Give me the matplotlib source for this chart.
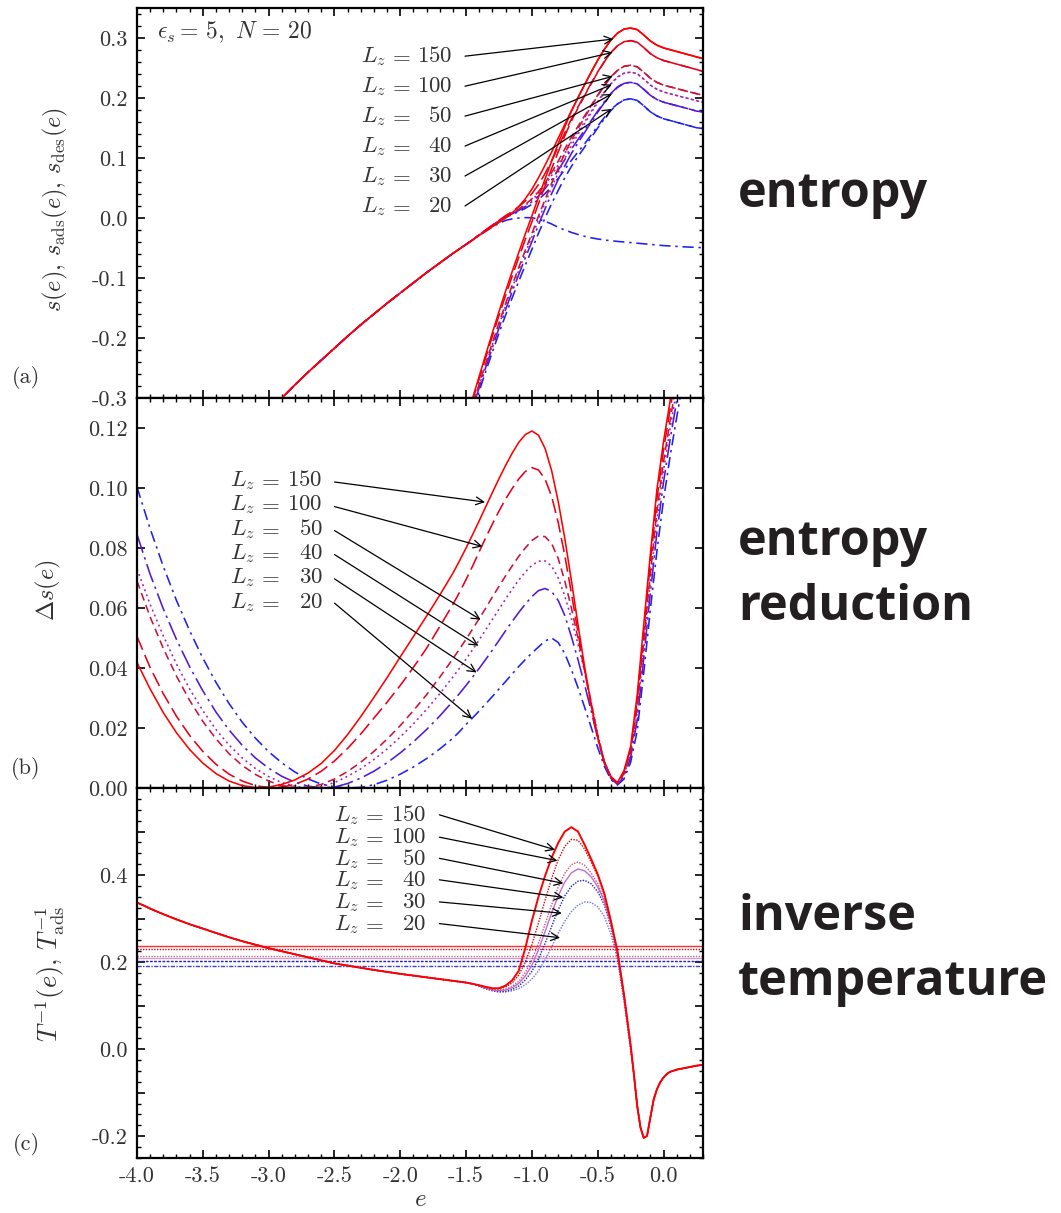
import numpy as np
import matplotlib.pyplot as plt
from matplotlib.ticker import MultipleLocator, FuncFormatter

plt.rcParams['font.family'] = 'serif'
plt.rcParams['font.serif'] = ['cmr10']
plt.rcParams['mathtext.fontset'] = 'cm'
plt.rcParams['axes.unicode_minus'] = False

LZ = [150, 100, 50, 40, 30, 20]

# ---------------- (a) entropies ----------------
E_ADS = [-3.0, -2.9, -2.8, -2.7, -2.6, -2.5, -2.4, -2.3, -2.2, -2.1, -2.0, -1.9, -1.8, -1.7, -1.6, -1.5,
         -1.45, -1.4, -1.35, -1.3, -1.25, -1.2, -1.15, -1.1, -1.05, -1.0,
         -0.95, -0.9, -0.85, -0.8, -0.75, -0.7, -0.65, -0.6, -0.55, -0.5,
         -0.45, -0.4, -0.35, -0.3, -0.25, -0.2, -0.15, -0.1, -0.05, 0.0,
         0.05, 0.1, 0.15, 0.2, 0.25, 0.3]
S_ADS = [-0.322, -0.300, -0.278, -0.257, -0.237, -0.217, -0.197, -0.178, -0.160, -0.142, -0.125, -0.108, -0.091, -0.075, -0.059, -0.044,
         -0.0365, -0.029, -0.022, -0.015, -0.009, -0.004, -0.0015, 0.000, 0.0006, 0.0005,
         -0.002, -0.0055, -0.010, -0.0155, -0.020, -0.024, -0.0275, -0.0305, -0.033, -0.035,
         -0.0365, -0.038, -0.039, -0.040, -0.041, -0.042, -0.043, -0.044, -0.045, -0.046,
         -0.0467, -0.0473, -0.048, -0.0485, -0.049, -0.0495]

E_HI = [-1.5, -1.45, -1.4, -1.35, -1.3, -1.25, -1.2, -1.15, -1.1, -1.05,
        -1.0, -0.95, -0.9, -0.85, -0.8, -0.75, -0.7, -0.65, -0.6, -0.55,
        -0.5, -0.45, -0.4, -0.35, -0.3, -0.25, -0.2, -0.15, -0.1, -0.05,
        0.0, 0.05, 0.1, 0.15, 0.2, 0.25, 0.3]

S_DES = {
    150: [-0.337, -0.300, -0.2635, -0.2272, -0.1912, -0.1560, -0.1220, -0.0893, -0.0575, -0.0265,
          0.0035, 0.0345, 0.0650, 0.0950, 0.1240, 0.1520, 0.1780, 0.2005, 0.2220, 0.2430,
          0.2630, 0.2810, 0.2965, 0.3080, 0.3148, 0.3166, 0.3140, 0.3050, 0.2950, 0.2880,
          0.2835, 0.2805, 0.2775, 0.2745, 0.2715, 0.2685, 0.2656],
    100: [-0.3405, -0.3039, -0.2680, -0.2322, -0.1969, -0.1624, -0.1291, -0.0971, -0.0660, -0.0358,
          -0.0065, 0.0238, 0.0534, 0.0824, 0.1101, 0.1369, 0.1616, 0.1830, 0.2035, 0.2236,
          0.2429, 0.2604, 0.2756, 0.2870, 0.2938, 0.2956, 0.2930, 0.2840, 0.2740, 0.2670,
          0.2625, 0.2595, 0.2565, 0.2535, 0.2505, 0.2475, 0.2444],
    50: [-0.3475, -0.3115, -0.2766, -0.2419, -0.2080, -0.1749, -0.1430, -0.1124, -0.0827, -0.0538,
         -0.0260, 0.0030, 0.0308, 0.0577, 0.0830, 0.1074, 0.1296, 0.1490, 0.1674, 0.1857,
         0.2036, 0.2201, 0.2347, 0.2460, 0.2528, 0.2546, 0.2520, 0.2430, 0.2330, 0.2260,
         0.2215, 0.2186, 0.2157, 0.2128, 0.2100, 0.2072, 0.2046],
    40: [-0.3494, -0.3137, -0.2791, -0.2446, -0.2111, -0.1784, -0.1469, -0.1167, -0.0874, -0.0589,
         -0.0314, -0.0028, 0.0245, 0.0508, 0.0754, 0.0991, 0.1207, 0.1394, 0.1572, 0.1751,
         0.1926, 0.2087, 0.2233, 0.2345, 0.2413, 0.2431, 0.2405, 0.2315, 0.2215, 0.2145,
         0.2100, 0.2071, 0.2042, 0.2013, 0.1985, 0.1956, 0.1928],
    30: [-0.3523, -0.3168, -0.2827, -0.2486, -0.2157, -0.1836, -0.1527, -0.1231, -0.0943, -0.0664,
         -0.0395, -0.0115, 0.0151, 0.0405, 0.0642, 0.0868, 0.1074, 0.1253, 0.1423, 0.1594,
         0.1763, 0.1920, 0.2064, 0.2175, 0.2243, 0.2261, 0.2235, 0.2145, 0.2045, 0.1975,
         0.1930, 0.1901, 0.1872, 0.1843, 0.1814, 0.1782, 0.1769],
    20: [-0.357, -0.322, -0.2885, -0.2552, -0.2232, -0.1920, -0.1620, -0.1333, -0.1055, -0.0785,
         -0.0525, -0.0255, 0.0000, 0.0240, 0.0460, 0.0670, 0.0860, 0.1025, 0.1180, 0.1340,
         0.1500, 0.1650, 0.1790, 0.1900, 0.1968, 0.1986, 0.1960, 0.1870, 0.1770, 0.1700,
         0.1655, 0.1625, 0.1595, 0.1565, 0.1535, 0.1505, 0.1491],
}

# total entropy s(e), from e = -1.5 on (below that it is s_ads)
S_TOT = {
    150: [-0.044, -0.0365, -0.029, -0.0218, -0.0145, -0.0075, 0.0000, 0.0085, 0.0190, 0.0320,
          0.0480, 0.0670, 0.0880, 0.1100, 0.1330, 0.1560, 0.1785, 0.2005, 0.2220, 0.2430,
          0.2630, 0.2810, 0.2965, 0.3080, 0.3148, 0.3166, 0.3140, 0.3050, 0.2950, 0.2880,
          0.2835, 0.2805, 0.2775, 0.2745, 0.2715, 0.2685, 0.2656],
    100: [-0.044, -0.0365, -0.0277, -0.0199, -0.0117, -0.0038, 0.0039, 0.0108, 0.0187, 0.0283,
          0.0405, 0.0556, 0.0740, 0.0952, 0.1181, 0.1418, 0.1647, 0.1850, 0.2049, 0.2245,
          0.2435, 0.2604, 0.2756, 0.2870, 0.2938, 0.2956, 0.2930, 0.2840, 0.2740, 0.2670,
          0.2625, 0.2595, 0.2565, 0.2535, 0.2505, 0.2475, 0.2444],
    50: [-0.044, -0.0365, -0.0278, -0.0202, -0.0123, -0.0047, 0.0024, 0.0083, 0.0148, 0.0225,
         0.0320, 0.0439, 0.0586, 0.0759, 0.0948, 0.1151, 0.1348, 0.1526, 0.1700, 0.1875,
         0.2049, 0.2211, 0.2354, 0.2460, 0.2528, 0.2546, 0.2520, 0.2430, 0.2330, 0.2260,
         0.2215, 0.2186, 0.2157, 0.2128, 0.2100, 0.2072, 0.2046],
    40: [-0.044, -0.0365, -0.0279, -0.0203, -0.0124, -0.0049, 0.0020, 0.0077, 0.0139, 0.0210,
         0.0300, 0.0409, 0.0546, 0.0709, 0.0885, 0.1078, 0.1266, 0.1437, 0.1602, 0.1773,
         0.1942, 0.2099, 0.2242, 0.2351, 0.2413, 0.2431, 0.2405, 0.2315, 0.2215, 0.2145,
         0.2100, 0.2071, 0.2042, 0.2013, 0.1985, 0.1956, 0.1928],
    30: [-0.044, -0.0365, -0.0279, -0.0203, -0.0125, -0.0053, 0.0015, 0.0069, 0.0125, 0.0190,
         0.0270, 0.0367, 0.0489, 0.0635, 0.0796, 0.0973, 0.1147, 0.1306, 0.1462, 0.1622,
         0.1784, 0.1936, 0.2076, 0.2185, 0.2251, 0.2261, 0.2235, 0.2145, 0.2045, 0.1975,
         0.1930, 0.1901, 0.1872, 0.1843, 0.1814, 0.1782, 0.1769],
    20: [-0.044, -0.0365, -0.0281, -0.0205, -0.0128, -0.0057, 0.0009, 0.0057, 0.0107, 0.0161,
         0.0228, 0.0307, 0.0407, 0.0526, 0.0659, 0.0809, 0.0960, 0.1100, 0.1235, 0.1383,
         0.1532, 0.1674, 0.1809, 0.1900, 0.1968, 0.1986, 0.1960, 0.1870, 0.1770, 0.1700,
         0.1655, 0.1625, 0.1595, 0.1565, 0.1535, 0.1505, 0.1491],
}

# ---------------- (b) entropy reduction ----------------
E_B = [-4.0, -3.9, -3.8, -3.7, -3.6, -3.5, -3.4, -3.3, -3.2, -3.1, -3.0, -2.9, -2.8, -2.7, -2.6,
       -2.5, -2.4, -2.3, -2.2, -2.1, -2.0, -1.9, -1.8, -1.7, -1.6,
       -1.55, -1.5, -1.45, -1.4, -1.35, -1.3, -1.25, -1.2, -1.15, -1.1, -1.05, -1.0,
       -0.95, -0.9, -0.85, -0.8, -0.75, -0.7, -0.65, -0.6, -0.55, -0.5,
       -0.45, -0.4, -0.35, -0.3, -0.25, -0.2, -0.15, -0.1, -0.05, 0.0,
       0.05, 0.1, 0.15, 0.2, 0.25, 0.3]
DS = {
    150: [0.0418, 0.0330, 0.0251, 0.0184, 0.0128, 0.0083, 0.0048, 0.0023, 0.0008, 0.0001, 0.0003, 0.0012, 0.0027, 0.0050, 0.0082,
          0.0125, 0.0178, 0.0238, 0.0302, 0.0368, 0.0437, 0.0505, 0.0573, 0.0643, 0.0716,
          0.0757, 0.0800, 0.0845, 0.0891, 0.0938, 0.0985, 0.1031, 0.1075, 0.1116, 0.1152, 0.1178, 0.1190,
          0.1176, 0.1132, 0.1058, 0.0955, 0.0832, 0.0692, 0.0546, 0.0405, 0.0280, 0.0170,
          0.0088, 0.0038, 0.0018, 0.0058, 0.0138, 0.0310, 0.0545, 0.0780, 0.0995, 0.1155,
          0.1290, 0.1420, 0.1550, 0.1680, 0.1800, 0.1920],
    100: [0.0505, 0.0401, 0.0314, 0.0239, 0.0175, 0.0122, 0.0079, 0.0046, 0.0023, 0.0008, 0.0001, 0.0003, 0.0012, 0.0030, 0.0056,
          0.0090, 0.0132, 0.0180, 0.0233, 0.0286, 0.0342, 0.0402, 0.0466, 0.0538, 0.0612,
          0.0652, 0.0695, 0.0740, 0.0788, 0.0835, 0.0880, 0.0923, 0.0963, 0.0998, 0.1030, 0.1055, 0.1068,
          0.1060, 0.1030, 0.0972, 0.0885, 0.0775, 0.0650, 0.0520, 0.0392, 0.0275, 0.0168,
          0.0087, 0.0037, 0.0017, 0.0054, 0.0130, 0.0292, 0.0521, 0.0752, 0.0964, 0.1126,
          0.1262, 0.1392, 0.1520, 0.1650, 0.1770, 0.1890],
    50: [0.0690, 0.0570, 0.0465, 0.0373, 0.0292, 0.0222, 0.0164, 0.0114, 0.0075, 0.0045, 0.0023, 0.0008, 0.0001, 0.0002, 0.0012,
         0.0030, 0.0055, 0.0086, 0.0122, 0.0163, 0.0208, 0.0258, 0.0311, 0.0369, 0.0431,
         0.0463, 0.0496, 0.0530, 0.0565, 0.0600, 0.0637, 0.0672, 0.0707, 0.0740, 0.0772, 0.0800, 0.0825,
         0.0840, 0.0838, 0.0815, 0.0765, 0.0690, 0.0600, 0.0500, 0.0395, 0.0285, 0.0175,
         0.0087, 0.0036, 0.0016, 0.0048, 0.0119, 0.0268, 0.0489, 0.0715, 0.0923, 0.1087,
         0.1225, 0.1355, 0.1480, 0.1610, 0.1730, 0.1850],
    40: [0.0730, 0.0612, 0.0507, 0.0413, 0.0330, 0.0258, 0.0195, 0.0143, 0.0100, 0.0065, 0.0038, 0.0018, 0.0006, 0.0001, 0.0004,
         0.0018, 0.0039, 0.0064, 0.0095, 0.0130, 0.0170, 0.0214, 0.0262, 0.0314, 0.0370,
         0.0399, 0.0430, 0.0461, 0.0494, 0.0528, 0.0562, 0.0596, 0.0630, 0.0662, 0.0693, 0.0720, 0.0742,
         0.0756, 0.0757, 0.0740, 0.0700, 0.0640, 0.0565, 0.0480, 0.0390, 0.0288, 0.0178,
         0.0086, 0.0035, 0.0015, 0.0044, 0.0112, 0.0250, 0.0465, 0.0688, 0.0893, 0.1058,
         0.1198, 0.1328, 0.1455, 0.1580, 0.1700, 0.1820],
    30: [0.0845, 0.0712, 0.0597, 0.0495, 0.0404, 0.0324, 0.0253, 0.0193, 0.0142, 0.0100, 0.0066, 0.0039, 0.0019, 0.0006, 0.0001,
         0.0003, 0.0015, 0.0033, 0.0056, 0.0084, 0.0117, 0.0154, 0.0195, 0.0240, 0.0289,
         0.0315, 0.0342, 0.0370, 0.0399, 0.0429, 0.0460, 0.0492, 0.0524, 0.0555, 0.0585, 0.0613, 0.0638,
         0.0658, 0.0665, 0.0655, 0.0625, 0.0575, 0.0505, 0.0428, 0.0345, 0.0258, 0.0165,
         0.0083, 0.0032, 0.0012, 0.0038, 0.0101, 0.0226, 0.0433, 0.0651, 0.0852, 0.1019,
         0.1161, 0.1290, 0.1417, 0.1540, 0.1660, 0.1780],
    20: [0.1003, 0.0864, 0.0738, 0.0625, 0.0524, 0.0433, 0.0352, 0.0281, 0.0219, 0.0166, 0.0121, 0.0084, 0.0053, 0.0030, 0.0013,
         0.0004, 0.0000, 0.0002, 0.0011, 0.0026, 0.0046, 0.0070, 0.0098, 0.0130, 0.0166,
         0.0188, 0.0212, 0.0234, 0.0257, 0.0281, 0.0305, 0.0330, 0.0355, 0.0380, 0.0405, 0.0428, 0.0450,
         0.0470, 0.0490, 0.0500, 0.0485, 0.0448, 0.0395, 0.0335, 0.0270, 0.0203, 0.0135,
         0.0073, 0.0028, 0.0010, 0.0030, 0.0085, 0.0190, 0.0385, 0.0595, 0.0790, 0.0960,
         0.1105, 0.1235, 0.1360, 0.1480, 0.1600, 0.1720],
}

# ---------------- (c) inverse temperature ----------------
E_C_LOW = [-4.0, -3.9, -3.8, -3.7, -3.6, -3.5, -3.4, -3.3, -3.2, -3.1, -3.0, -2.9, -2.8,
           -2.7, -2.6, -2.5, -2.4, -2.3, -2.2, -2.1, -2.0, -1.9, -1.8, -1.7, -1.6, -1.5]
T_LOW = [0.337, 0.323, 0.310, 0.298, 0.287, 0.277, 0.267, 0.257, 0.248, 0.240, 0.232, 0.225, 0.218,
         0.211, 0.204, 0.197, 0.192, 0.187, 0.182, 0.1775, 0.173, 0.169, 0.165, 0.161, 0.157, 0.153]
E_C_MID = [-1.45, -1.4, -1.35, -1.3, -1.25, -1.2, -1.15, -1.1, -1.05, -1.0,
           -0.95, -0.9, -0.85, -0.8, -0.75, -0.7, -0.65, -0.6, -0.55, -0.5,
           -0.45, -0.4, -0.35, -0.3, -0.25]
T_MID = {
    150: [0.150, 0.147, 0.143, 0.140, 0.140, 0.146, 0.158, 0.180, 0.232, 0.295,
          0.350, 0.398, 0.440, 0.474, 0.500, 0.510, 0.500, 0.470, 0.437, 0.402,
          0.358, 0.295, 0.225, 0.125, 0.010],
    100: [0.150, 0.146, 0.142, 0.139, 0.139, 0.143, 0.152, 0.170, 0.200, 0.240,
          0.290, 0.342, 0.392, 0.435, 0.466, 0.482, 0.480, 0.460, 0.430, 0.398,
          0.356, 0.294, 0.225, 0.125, 0.010],
    50: [0.150, 0.146, 0.141, 0.137, 0.136, 0.138, 0.144, 0.156, 0.176, 0.205,
         0.243, 0.287, 0.332, 0.372, 0.404, 0.424, 0.430, 0.423, 0.405, 0.380,
         0.345, 0.290, 0.222, 0.122, 0.008],
    40: [0.150, 0.146, 0.140, 0.136, 0.134, 0.136, 0.141, 0.151, 0.168, 0.193,
         0.228, 0.270, 0.313, 0.352, 0.384, 0.405, 0.414, 0.410, 0.396, 0.373,
         0.340, 0.287, 0.220, 0.120, 0.006],
    30: [0.150, 0.145, 0.139, 0.135, 0.132, 0.133, 0.137, 0.145, 0.159, 0.179,
         0.207, 0.243, 0.282, 0.320, 0.352, 0.374, 0.386, 0.388, 0.380, 0.362,
         0.332, 0.282, 0.215, 0.115, 0.002],
    20: [0.150, 0.145, 0.139, 0.134, 0.131, 0.1315, 0.134, 0.139, 0.148, 0.161,
         0.180, 0.205, 0.235, 0.266, 0.294, 0.316, 0.331, 0.338, 0.337, 0.327,
         0.305, 0.265, 0.205, 0.110, 0.000],
}
# above e = -0.25 all box sizes coincide
E_C_TAIL = [-0.225, -0.2, -0.175, -0.15, -0.125, -0.1, -0.075, -0.05, -0.025, 0.0,
            0.025, 0.05, 0.1, 0.15, 0.2, 0.25, 0.3]
T_TAIL = [-0.058, -0.130, -0.180, -0.204, -0.199, -0.157, -0.116, -0.092, -0.076, -0.065,
          -0.057, -0.052, -0.047, -0.044, -0.041, -0.038, -0.036]
T_ADS = {150: 0.237, 100: 0.229, 50: 0.2145, 40: 0.209, 30: 0.2017, 20: 0.191}

# ---------------- styles ----------------
COLORS = {150: '#ff0000', 100: '#e8001a', 50: '#c8143c', 40: '#a420b4', 30: '#5018d8', 20: '#2020f0'}
DASHES = {150: '-', 100: (0, (9, 3.5)), 50: (0, (5, 3)), 40: (0, (1.2, 2.2)),
          30: (0, (12, 3, 1.5, 3)), 20: (0, (7, 3, 1.5, 3))}
C_COLORS = {150: '#ff0000', 100: '#e00010', 50: '#d05070', 40: '#c070d0', 30: '#2020c0', 20: '#7070e8'}
C_DASHES = {150: '-', 100: (0, (1, 1)), 50: (0, (1, 1)), 40: '-', 30: (0, (1, 1)), 20: (0, (1, 1))}
H_COLORS = {150: '#ff3030', 100: '#e00010', 50: '#c07090', 40: '#d0a0d0', 30: '#2020b0', 20: '#4040d0'}
H_DASHES = {150: '-', 100: (0, (1, 1)), 50: (0, (1, 1)), 40: '-', 30: (0, (2, 1)), 20: (0, (3, 1, 1, 1))}
LW = 1.15
INK = '#333333'

fig = plt.figure(figsize=(10.61, 12.13), dpi=100)
left, width = 137 / 1061, 566 / 1061
ax_a = fig.add_axes([left, 1 - 398 / 1213, width, 390 / 1213])
ax_b = fig.add_axes([left, 1 - 788 / 1213, width, 390 / 1213])
ax_c = fig.add_axes([left, 1 - 1158 / 1213, width, 370 / 1213])


def fmt(decimals, step=None, vmax=None):
    def f(v, pos):
        if abs(v) < 1e-9:
            v = 0.0
        if step is not None and abs(v / step - round(v / step)) > 1e-6:
            return ''
        if vmax is not None and v > vmax:
            return ''
        return '%.*f' % (decimals, v)
    return FuncFormatter(f)


def setup(ax, ymajor, yminor=None):
    ax.set_xlim(-4.0, 0.3)
    ax.xaxis.set_major_locator(MultipleLocator(0.5))
    ax.xaxis.set_minor_locator(MultipleLocator(0.1))
    ax.yaxis.set_major_locator(MultipleLocator(ymajor))
    if yminor:
        ax.yaxis.set_minor_locator(MultipleLocator(yminor))
    ax.tick_params(which='both', direction='in', top=True, right=True, labelsize=16,
                   labelcolor=INK)
    ax.tick_params(which='major', length=6, width=1.2)
    ax.tick_params(which='minor', length=3, width=1.0)
    ax.tick_params(axis='y', pad=7)
    ax.tick_params(axis='x', pad=6)
    for sp in ax.spines.values():
        sp.set_linewidth(1.6)


# (a)
setup(ax_a, 0.1, 0.02)
ax_a.set_ylim(-0.3, 0.35)
ax_a.yaxis.set_major_formatter(fmt(1))
ax_a.tick_params(labelbottom=False)
ax_a.plot(E_ADS, S_ADS, color=COLORS[20], ls=DASHES[20], lw=LW)
e_low = [e for e in E_ADS if e < -1.5]
s_low = S_ADS[:len(e_low)]
for lz in LZ[::-1]:
    ax_a.plot(E_HI, S_DES[lz], color=COLORS[lz], ls=DASHES[lz], lw=LW)
    ax_a.plot(e_low + E_HI, s_low + S_TOT[lz], color=COLORS[lz], ls=DASHES[lz], lw=LW)
ax_a.text(-3.85, 0.300, r'$\epsilon_s = \,5,\ N\, = \,20$', fontsize=17, va='baseline', color=INK)

# (b)
setup(ax_b, 0.02)
ax_b.set_ylim(0.0, 0.13)
ax_b.yaxis.set_major_formatter(fmt(2))
ax_b.tick_params(labelbottom=False)
for lz in LZ[::-1]:
    ax_b.plot(E_B, DS[lz], color=COLORS[lz], ls=DASHES[lz], lw=LW)

# (c)
setup(ax_c, 0.1, 0.025)
ax_c.set_ylim(-0.25, 0.6)
ax_c.yaxis.set_major_formatter(fmt(1, step=0.2, vmax=0.5))
ax_c.xaxis.set_major_formatter(fmt(1))
for lz in LZ[::-1]:
    ax_c.axhline(T_ADS[lz], color=H_COLORS[lz], ls=H_DASHES[lz], lw=1.0)
for lz in LZ[::-1]:
    ax_c.plot(E_C_LOW + E_C_MID + E_C_TAIL, T_LOW + T_MID[lz] + T_TAIL,
              color=C_COLORS[lz], ls=C_DASHES[lz], lw=1.4 if lz == 150 else 1.0)

# L_z labels with arrows
arrow_kw = dict(arrowstyle='->', color='black', lw=0.9, shrinkA=0, shrinkB=0, mutation_scale=14)
labels = [
    (ax_a, -2.298, -2.090, -1.606, [0.2594, 0.2095, 0.1596, 0.1097, 0.0598, 0.0098],
     -1.508, [0.2697, 0.2197, 0.1698, 0.1199, 0.0700, 0.0200],
     [(-0.381, 0.2983), (-0.386, 0.276), (-0.386, 0.2361), (-0.393, 0.2223), (-0.393, 0.2068), (-0.393, 0.1819)]),
    (ax_b, -3.296, -3.090, -2.590, [0.1006, 0.0926, 0.0844, 0.0764, 0.0683, 0.0601],
     -2.499, [0.1020, 0.0938, 0.0858, 0.0778, 0.0697, 0.0616],
     [(-1.356, 0.0953), (-1.375, 0.0805), (-1.389, 0.0561), (-1.406, 0.0474), (-1.420, 0.0385), (-1.454, 0.0231)]),
    (ax_c, -2.501, -2.295, -1.804, [0.5239, 0.4738, 0.4237, 0.3739, 0.3238, 0.2738],
     -1.703, [0.5384, 0.4870, 0.4385, 0.3891, 0.3383, 0.2885],
     [(-0.824, 0.458), (-0.806, 0.433), (-0.761, 0.381), (-0.761, 0.3485), (-0.773, 0.3123), (-0.786, 0.256)]),
]
for ax, xl, xeq, xr, ybase, xs, ys, tips in labels:
    for lz, yb, y0, tip in zip(LZ, ybase, ys, tips):
        ax.text(xl, yb, r'$L_z$', fontsize=16.5, va='baseline', ha='left', color=INK)
        ax.text(xeq, yb, r'$=$', fontsize=16.5, va='baseline', ha='left', color=INK)
        ax.text(xr, yb, r'$%d$' % lz, fontsize=16.5, va='baseline', ha='right', color=INK)
        ax.annotate('', xy=tip, xytext=(xs, y0), arrowprops=arrow_kw)

# axis labels and panel tags
fig.text(55 / 1061, 1 - 210 / 1213, r'$s(e),\,s_{\rm ads}(e),\,s_{\rm des}(e)$', rotation=90,
         ha='center', va='center', fontsize=17.5, color=INK)
fig.text(48 / 1061, 1 - 590 / 1213, r'$\Delta s(e)$', rotation=90,
         ha='center', va='center', fontsize=17.5, color=INK)
fig.text(50 / 1061, 1 - 974 / 1213, r'$T^{-1}(e),\,T^{-1}_{\rm ads}$', rotation=90,
         ha='center', va='center', fontsize=19, color=INK)
fig.text(420 / 1061, 1 - 1200 / 1213, r'$e$', ha='center', va='center', fontsize=18, color=INK)
for tag, y in [('(a)', 377), ('(b)', 768), ('(c)', 1145)]:
    fig.text(26 / 1061, 1 - y / 1213, tag, ha='center', va='center', fontsize=16, color=INK)

# section titles on the right
side = dict(fontsize=35, fontweight='bold', family='Open Sans', va='baseline', ha='left', color='#231f20')
fig.text(738 / 1061, 1 - 207 / 1213, 'entropy', **side)
fig.text(738 / 1061, 1 - 555 / 1213, 'entropy', **side)
fig.text(738 / 1061, 1 - 620 / 1213, 'reduction', **side)
fig.text(738 / 1061, 1 - 930 / 1213, 'inverse', **side)
fig.text(738 / 1061, 1 - 995 / 1213, 'temperature', **side)

fig.savefig('out.png', dpi=100)
